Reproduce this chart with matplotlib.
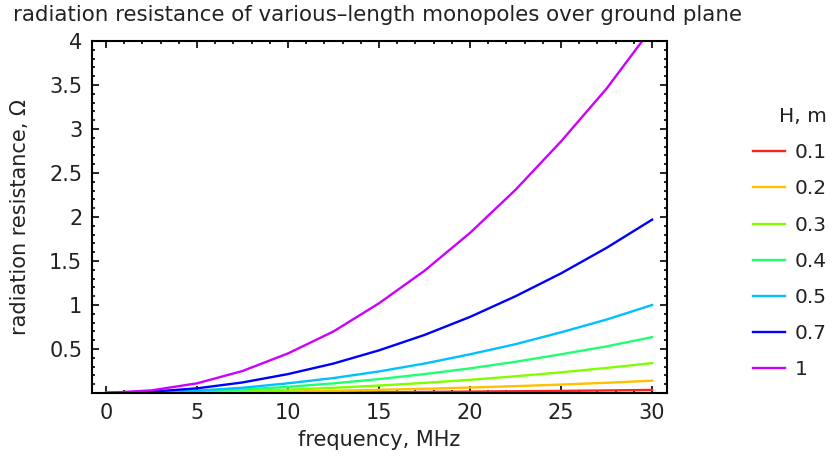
import matplotlib
matplotlib.use('Agg')
import matplotlib.pyplot as plt
from matplotlib.ticker import MultipleLocator

plt.rcParams['font.family'] = ['DejaVu Sans']

# frequency, MHz
freq = [0, 2.5, 5, 7.5, 10, 12.5, 15, 17.5, 20, 22.5, 25, 27.5, 30]

# radiation resistance, ohm, one list per monopole height
r_01 = [0, 0, 0.001, 0.002, 0.004, 0.006, 0.009, 0.012, 0.016, 0.02, 0.024, 0.029, 0.035]
r_02 = [0, 0.001, 0.004, 0.009, 0.016, 0.025, 0.036, 0.048, 0.062, 0.078, 0.096, 0.116, 0.14]
r_03 = [0, 0.003, 0.009, 0.021, 0.038, 0.059, 0.085, 0.115, 0.15, 0.19, 0.235, 0.285, 0.34]
r_04 = [0, 0.005, 0.018, 0.04, 0.07, 0.11, 0.158, 0.215, 0.28, 0.355, 0.44, 0.53, 0.635]
r_05 = [0, 0.008, 0.027, 0.06, 0.11, 0.17, 0.245, 0.335, 0.44, 0.555, 0.69, 0.835, 1.0]
r_07 = [0, 0.015, 0.053, 0.12, 0.215, 0.335, 0.485, 0.66, 0.865, 1.10, 1.36, 1.65, 1.97]
r_10 = [0, 0.03, 0.11, 0.25, 0.45, 0.70, 1.02, 1.39, 1.82, 2.31, 2.86, 3.46, 4.15]

heights = ['0.1', '0.2', '0.3', '0.4', '0.5', '0.7', '1']
series = [r_01, r_02, r_03, r_04, r_05, r_07, r_10]
colors = ['#ff2020', '#ffc000', '#80ff00', '#20ff70', '#00c0ff', '#0000ff', '#cc00ff']

fs = 15

fig = plt.figure(figsize=(8.34, 4.61), dpi=100)
ax = fig.add_axes([0.1103, 0.1475, 0.6895, 0.7635])

for h, r, c in zip(heights, series, colors):
    ax.plot(freq, r, color=c, lw=1.7, label=h)

ax.set_xlim(-0.77, 30.82)
ax.set_ylim(0, 4)
ax.set_xticks([0, 5, 10, 15, 20, 25, 30])
ax.xaxis.set_minor_locator(MultipleLocator(1))
ax.set_yticks([0.5, 1, 1.5, 2, 2.5, 3, 3.5, 4])
ax.set_yticklabels(['0.5', '1', '1.5', '2', '2.5', '3', '3.5', '4'])
ax.yaxis.set_minor_locator(MultipleLocator(0.1))
ax.tick_params(which='both', direction='in', top=True, right=True, labelsize=fs, width=1.2,
               labelcolor='#222222')
ax.tick_params(which='major', length=5, pad=7)
ax.tick_params(which='minor', length=2.5)
for s in ax.spines.values():
    s.set_linewidth(1.5)

ax.set_xlabel('frequency, MHz', fontsize=fs, labelpad=5, color='#222222')
ax.set_ylabel('radiation resistance, Ω', fontsize=fs, labelpad=14, color='#222222')
fig.text(0.016, 0.968, 'radiation resistance of various–length monopoles over ground plane',
         fontsize=15.4, ha='left', va='center', color='#222222')

leg = ax.legend(title='H, m', loc='upper left', bbox_to_anchor=(1.15, 0.812), frameon=False,
                fontsize=fs - 0.5, title_fontsize=fs - 0.5, handlelength=1.55, handletextpad=0.5,
                labelspacing=0.85, borderaxespad=0, borderpad=0)
leg._legend_box.align = 'right'
for t in leg.get_texts():
    t.set_color('#222222')
leg.get_title().set_color('#222222')

fig.savefig('out.png', dpi=100)
